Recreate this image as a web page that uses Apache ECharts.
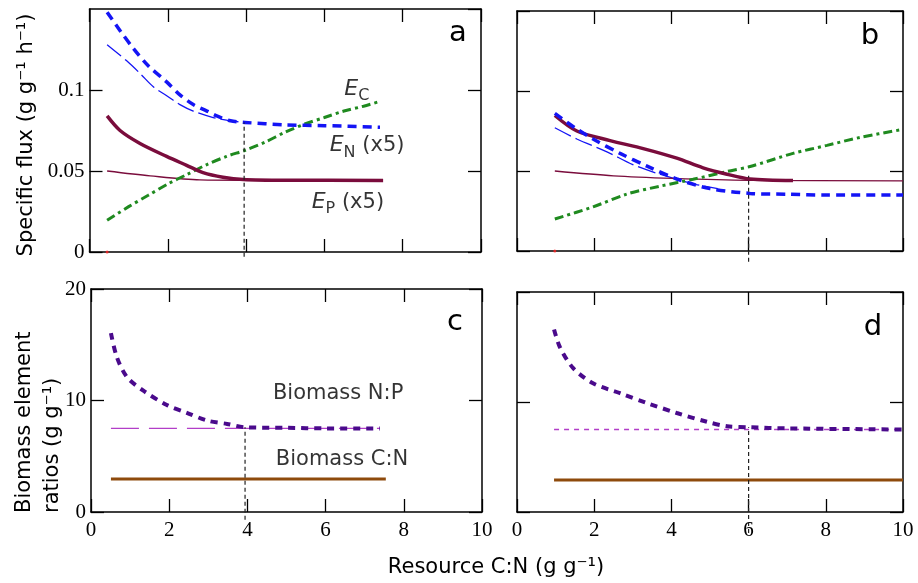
<!DOCTYPE html>
<html>
<head>
<meta charset="utf-8">
<script src="https://cdn.jsdelivr.net/npm/echarts@6/dist/echarts.min.js"></script>
<style>
  html, body { margin: 0; padding: 0; background: #fff; }
  #chart { width: 918px; height: 583px; }
</style>
</head>
<body>
<div id="chart"></div>
<script>
// panel a : specific fluxes (g g-1 h-1) vs resource C:N
var aENthick = [[0.45,0.148],[0.8,0.136],[1.11,0.126],[1.5,0.115],[1.97,0.105],[2.31,0.097],[2.65,0.091],[3.0,0.087],[3.25,0.084],[3.6,0.081],[3.97,0.080],[5.0,0.0785],[6.0,0.078],[7.42,0.077]];
var aENthin = [[0.45,0.128],[0.95,0.118],[1.3,0.110],[1.63,0.102],[2.0,0.096],[2.31,0.091],[2.65,0.087],[3.16,0.083],[3.6,0.081],[3.97,0.080]];
var aEPthick = [[0.45,0.084],[0.78,0.075],[1.29,0.067],[1.97,0.059],[2.48,0.0535],[2.9,0.049],[3.41,0.0462],[3.93,0.0448],[5.0,0.0443],[7.5,0.0442]];
var aEPthin = [[0.45,0.050],[1.55,0.047],[2.82,0.0445],[3.95,0.0443]];
var aEC = [[0.45,0.0196],[1.0,0.028],[1.5,0.035],[2.0,0.042],[2.5,0.048],[3.0,0.054],[3.5,0.059],[4.0,0.063],[4.5,0.068],[5.0,0.074],[5.5,0.079],[6.0,0.083],[6.5,0.087],[7.0,0.090],[7.42,0.093]];
var aThreshold = [[3.95,-0.003],[3.95,0.080]];
var aStart = [[0.45,0]];

// panel b
var bENthick = [[0.98,0.086],[1.5,0.077],[1.97,0.070],[2.67,0.061],[3.37,0.053],[4.14,0.045],[5.0,0.039],[6.04,0.036],[7.0,0.0355],[8.0,0.035],[10,0.035]];
var bENthin = [[0.98,0.077],[1.55,0.070],[2.33,0.062],[3.0,0.054],[3.7,0.048],[4.56,0.042],[5.2,0.039]];
var bEPthick = [[0.98,0.0847],[1.55,0.075],[2.41,0.069],[3.27,0.064],[4.14,0.058],[4.82,0.052],[5.44,0.048],[6.04,0.045],[7.15,0.044]];
var bEPthin = [[0.98,0.050],[2.5,0.047],[4.05,0.0454],[6.0,0.0442],[10,0.0438]];
var bEC = [[0.98,0.020],[1.97,0.0276],[2.85,0.0356],[3.7,0.0405],[4.56,0.0448],[5.44,0.0497],[6.04,0.0528],[7.15,0.061],[8.03,0.066],[8.89,0.071],[10,0.076]];
var bThreshold = [[6.0,-0.0067],[6.0,0.047]];
var bStart = [[0.98,0]];

// panel c : biomass element ratios (g g-1)
var cNP = [[0.51,16.05],[0.66,13.9],[0.92,12.1],[1.33,10.9],[1.94,9.6],[2.45,8.9],[2.97,8.2],[3.48,7.9],[3.94,7.6],[5.0,7.55],[6.0,7.5],[7.39,7.5]];
var cNPref = [[0.51,7.5],[7.39,7.5]];
var cCN = [[0.51,2.95],[7.54,2.95]];
var cThreshold = [[3.94,-0.7],[3.94,7.6]];

// panel d
var dNP = [[0.96,16.6],[1.11,15.0],[1.45,13.1],[1.97,11.7],[2.67,10.8],[3.37,9.9],[4.14,9.0],[4.92,8.2],[5.44,7.8],[6.04,7.7],[7.0,7.6],[10,7.5]];
var dNPref = [[0.96,7.5],[10,7.5]];
var dCN = [[0.96,2.9],[10,2.9]];
var dThreshold = [[6.0,-1.9],[6.0,7.7]];

// label anchors (data coords)
var aLabels = [
    { value: [6.83, 0.1006], text: '{e|E}{s|C}' },
    { value: [7.09, 0.0656], text: '{e|E}{s|N}{n| (x5)}' },
    { value: [6.6, 0.0307], text: '{e|E}{s|P}{n| (x5)}' }
];
var cLabels = [
    { value: [6.32, 10.6], text: '{n|Biomass N:P}' },
    { value: [6.42, 4.66], text: '{n|Biomass C:N}' }
];

var myChart = echarts.init(document.getElementById('chart'));

var SERIF = 'Liberation Serif';
var SANS = 'DejaVu Sans';

var grids = [
    { left: 89.5, top: 9, width: 391.5, height: 243 },
    { left: 517, top: 11, width: 386, height: 240 },
    { left: 91, top: 289, width: 391, height: 223 },
    { left: 517, top: 292, width: 386, height: 220 }
];

function xAx(gi, pos, labels) {
    return {
        type: 'value', gridIndex: gi, position: pos, min: 0, max: 10, interval: 2,
        axisLine: { show: true, onZero: false, lineStyle: { color: '#000', width: 1.5 } },
        axisTick: { show: true, inside: true, length: 13, lineStyle: { color: '#000', width: 1.3 } },
        axisLabel: { show: labels, color: '#000', fontFamily: SERIF, fontSize: 21, margin: 8 },
        splitLine: { show: false }
    };
}
function yAx(gi, pos, max, interval, labels) {
    return {
        type: 'value', gridIndex: gi, position: pos, min: 0, max: max, interval: interval,
        axisLine: { show: true, onZero: false, lineStyle: { color: '#000', width: 1.5 } },
        axisTick: { show: true, inside: true, length: 13, lineStyle: { color: '#000', width: 1.3 } },
        axisLabel: {
            show: labels, color: '#000', fontFamily: SERIF, fontSize: 21, margin: 5,
            showMaxLabel: max === 20
        },
        splitLine: { show: false }
    };
}

var xAxes = [], yAxes = [];
// primary axes 0..3, mirror axes 4..7
xAxes.push(xAx(0, 'bottom', false), xAx(1, 'bottom', false), xAx(2, 'bottom', true), xAx(3, 'bottom', true));
xAxes.push(xAx(0, 'top', false), xAx(1, 'top', false), xAx(2, 'top', false), xAx(3, 'top', false));
yAxes.push(yAx(0, 'left', 0.15, 0.05, true), yAx(1, 'left', 0.15, 0.05, false), yAx(2, 'left', 20, 10, true), yAx(3, 'left', 20, 10, false));
yAxes.push(yAx(0, 'right', 0.15, 0.05, false), yAx(1, 'right', 0.15, 0.05, false), yAx(2, 'right', 20, 10, false), yAx(3, 'right', 20, 10, false));

var BLUE = '#1414f5', MAROON = '#7a0c3c', GREEN = '#1f8a1f', PURPLE = '#4a0a8c', MAGENTA = '#b23ec8', BROWN = '#8e4a0c';

function line(gi, data, color, width, type, smooth) {
    return {
        type: 'line', xAxisIndex: gi, yAxisIndex: gi, data: data, showSymbol: false, symbol: 'none',
        smooth: smooth ? 0.3 : false, clip: false, silent: true,
        lineStyle: { color: color, width: width, type: type, cap: 'butt' }
    };
}
function labelSeries(gi, items, rich) {
    return {
        type: 'scatter', xAxisIndex: gi, yAxisIndex: gi, symbolSize: 0, silent: true,
        data: items.map(function (d) { return { value: d.value, label: { formatter: d.text } }; }),
        label: { show: true, position: 'inside', color: '#000', fontFamily: SANS, fontSize: 21, rich: rich }
    };
}

var subRich = {
    e: { fontFamily: SANS, fontStyle: 'italic', fontSize: 22, lineHeight: 30, verticalAlign: 'middle', color: '#000' },
    s: { fontFamily: SANS, fontSize: 16, lineHeight: 16, verticalAlign: 'bottom', color: '#000' },
    n: { fontFamily: SANS, fontSize: 21, lineHeight: 30, verticalAlign: 'middle', color: '#000' }
};

var series = [
    // a
    line(0, aENthin, BLUE, 1.3, [18, 5], true),
    line(0, aEPthin, MAROON, 1.3, 'solid', true),
    line(0, aEC, GREEN, 3, [9, 4, 3, 4], true),
    line(0, aEPthick, MAROON, 3.5, 'solid', true),
    line(0, aENthick, BLUE, 3.5, [9, 6], true),
    line(0, aThreshold, '#222', 1.2, [4, 3], false),
    { type: 'scatter', xAxisIndex: 0, yAxisIndex: 0, data: aStart, symbolSize: 3, itemStyle: { color: '#ff2020' }, clip: false, silent: true },
    labelSeries(0, aLabels, subRich),
    // b
    line(1, bENthin, BLUE, 1.3, [18, 5], true),
    line(1, bEPthin, MAROON, 1.3, 'solid', true),
    line(1, bEC, GREEN, 3, [9, 4, 3, 4], true),
    line(1, bEPthick, MAROON, 3.5, 'solid', true),
    line(1, bENthick, BLUE, 3.5, [9, 6], true),
    line(1, bThreshold, '#222', 1.2, [4, 3], false),
    { type: 'scatter', xAxisIndex: 1, yAxisIndex: 1, data: bStart, symbolSize: 3, itemStyle: { color: '#ff2020' }, clip: false, silent: true },
    // c
    line(2, cNPref, MAGENTA, 1.3, [28, 10], false),
    line(2, cCN, BROWN, 3, 'solid', false),
    line(2, cNP, PURPLE, 4, [7, 6], true),
    line(2, cThreshold, '#222', 1.2, [4, 3], false),
    labelSeries(2, cLabels, subRich),
    // d
    line(3, dNPref, MAGENTA, 1.3, [5, 5], false),
    line(3, dCN, BROWN, 3, 'solid', false),
    line(3, dNP, PURPLE, 4, [7, 6], true),
    line(3, dThreshold, '#222', 1.2, [4, 3], false)
];

myChart.setOption({
    animation: false,
    backgroundColor: '#fff',
    grid: grids,
    xAxis: xAxes,
    yAxis: yAxes,
    series: series,
    graphic: [
        { type: 'text', x: 27, y: 135, rotation: Math.PI / 2,
          style: { text: 'Specific flux (g g\u207B\u00B9 h\u207B\u00B9)', font: '21px "DejaVu Sans"', fill: '#000', align: 'center', verticalAlign: 'middle' } },
        { type: 'text', x: 39, y: 513, rotation: Math.PI / 2,
          style: { text: 'Biomass element\nratios (g g\u207B\u00B9)', font: '21px "DejaVu Sans"', fill: '#000', align: 'left', verticalAlign: 'middle', lineHeight: 28 } },
        { type: 'text', x: 496, y: 568,
          style: { text: 'Resource C:N (g g\u207B\u00B9)', font: '21px "DejaVu Sans"', fill: '#000', align: 'center', verticalAlign: 'middle' } },
        { type: 'text', x: 458, y: 33, style: { text: 'a', font: '29px "DejaVu Sans"', fill: '#000', align: 'center', verticalAlign: 'middle' } },
        { type: 'text', x: 870, y: 36, style: { text: 'b', font: '29px "DejaVu Sans"', fill: '#000', align: 'center', verticalAlign: 'middle' } },
        { type: 'text', x: 455, y: 322, style: { text: 'c', font: '29px "DejaVu Sans"', fill: '#000', align: 'center', verticalAlign: 'middle' } },
        { type: 'text', x: 873, y: 327, style: { text: 'd', font: '29px "DejaVu Sans"', fill: '#000', align: 'center', verticalAlign: 'middle' } }
    ]
});
</script>
</body>
</html>
